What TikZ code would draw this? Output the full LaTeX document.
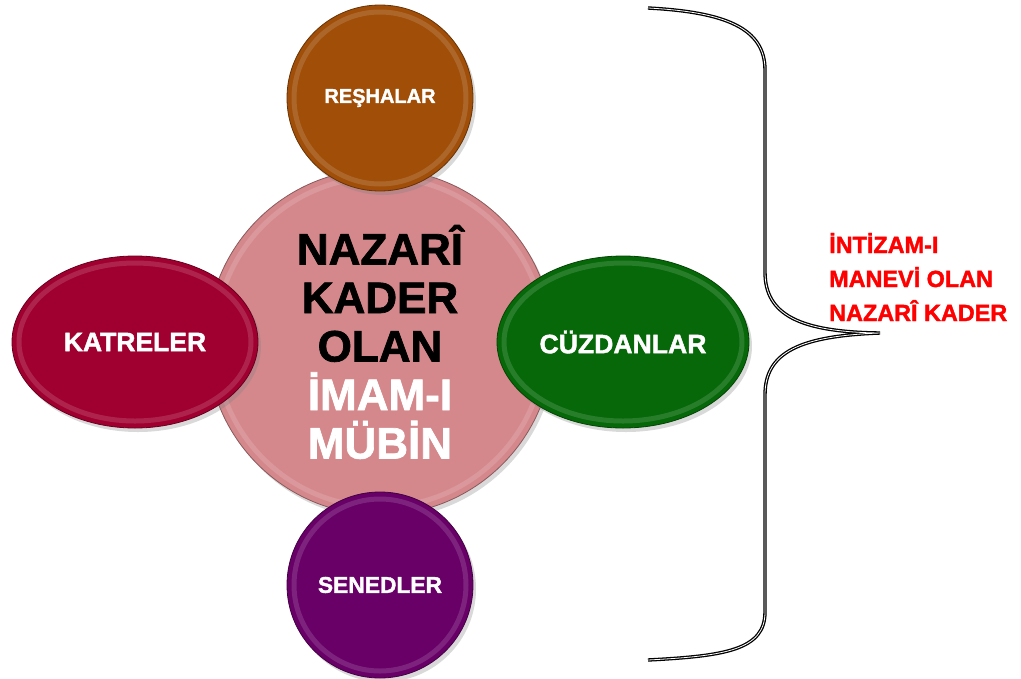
\documentclass[tikz,border=0pt]{standalone}
\usepackage{fontspec}
\setmainfont{Liberation Sans}
\newfontfamily\heavyfont{Liberation Sans Bold}[FakeBold=1.6]
\usetikzlibrary{shapes.geometric,shadows}
\definecolor{cOrange}{RGB}{160,78,8}
\definecolor{cCrimson}{RGB}{160,0,48}
\definecolor{cGreen}{RGB}{6,104,8}
\definecolor{cPurple}{RGB}{104,0,104}
\definecolor{cPink}{RGB}{212,136,140}
\definecolor{cRed}{RGB}{255,0,0}
\begin{document}
\begin{tikzpicture}[x=1pt,y=-1pt,
  disc/.style={draw=#1!65!black, line width=0.8pt, fill=#1, inner sep=0pt,
    text=white, drop shadow={opacity=0.3, shadow xshift=3pt, shadow yshift=-4pt}},
  ring/.style={line width=5pt, draw=#1!65!white, opacity=0.4},
  bracestyle/.style={draw=black, line width=1.3pt, double=white, double distance=0.8pt}]
\useasboundingbox (0,0) rectangle (1021,678);

% central disc
\node[disc=cPink, circle, minimum size=346pt, align=center, text=black,
  font=\heavyfont\fontsize{44}{48.5}\selectfont] (center) at (380,342)
  {NAZARÎ\\KADER\\OLAN\\\textcolor{white}{İMAM-I}\\\textcolor{white}{MÜBİN}};
\draw[ring=cPink] (center.center) circle (165pt);

% satellites
\node[disc=cOrange, circle, minimum size=186pt,
  font=\heavyfont\fontsize{20}{24}\selectfont] (resh) at (380,98) {REŞHALAR};
\draw[ring=cOrange] (resh.center) circle (86pt);

\node[disc=cPurple, circle, minimum size=186pt,
  font=\heavyfont\fontsize{22.8}{26}\selectfont] (sened) at (380,585) {SENEDLER};
\draw[ring=cPurple] (sened.center) circle (86pt);

\node[disc=cCrimson, ellipse, minimum width=246pt, minimum height=172pt,
  font=\heavyfont\fontsize{26.5}{30}\selectfont] (katre) at (135,342) {KATRELER};
\draw[ring=cCrimson] (katre.center) ellipse [x radius=116pt, y radius=79pt];

\node[disc=cGreen, ellipse, minimum width=252pt, minimum height=172pt,
  font=\heavyfont\fontsize{26.6}{30}\selectfont] (cuzdan) at (623,342) {CÜZDANLAR};
\draw[ring=cGreen] (cuzdan.center) ellipse [x radius=119pt, y radius=79pt];

% brace
\coordinate (bTop) at (648,8);
\coordinate (bTip) at (880,333);
\coordinate (bBot) at (648,660);
\draw[bracestyle] (bTop) .. controls (725,12) and (765,28) .. (765,70)
  -- (765,272) .. controls (765,315) and (800,332) .. (bTip)
  .. controls (800,336) and (765,352) .. (765,395)
  -- (765,612) .. controls (765,650) and (725,656) .. (bBot);

% note
\node[anchor=west, align=left, text=cRed, inner sep=0pt,
  font=\heavyfont\fontsize{23.4}{34}\selectfont] (note) at (829,277)
  {İNTİZAM-I\\MANEVİ OLAN\\NAZARÎ KADER};
\end{tikzpicture}
\end{document}
